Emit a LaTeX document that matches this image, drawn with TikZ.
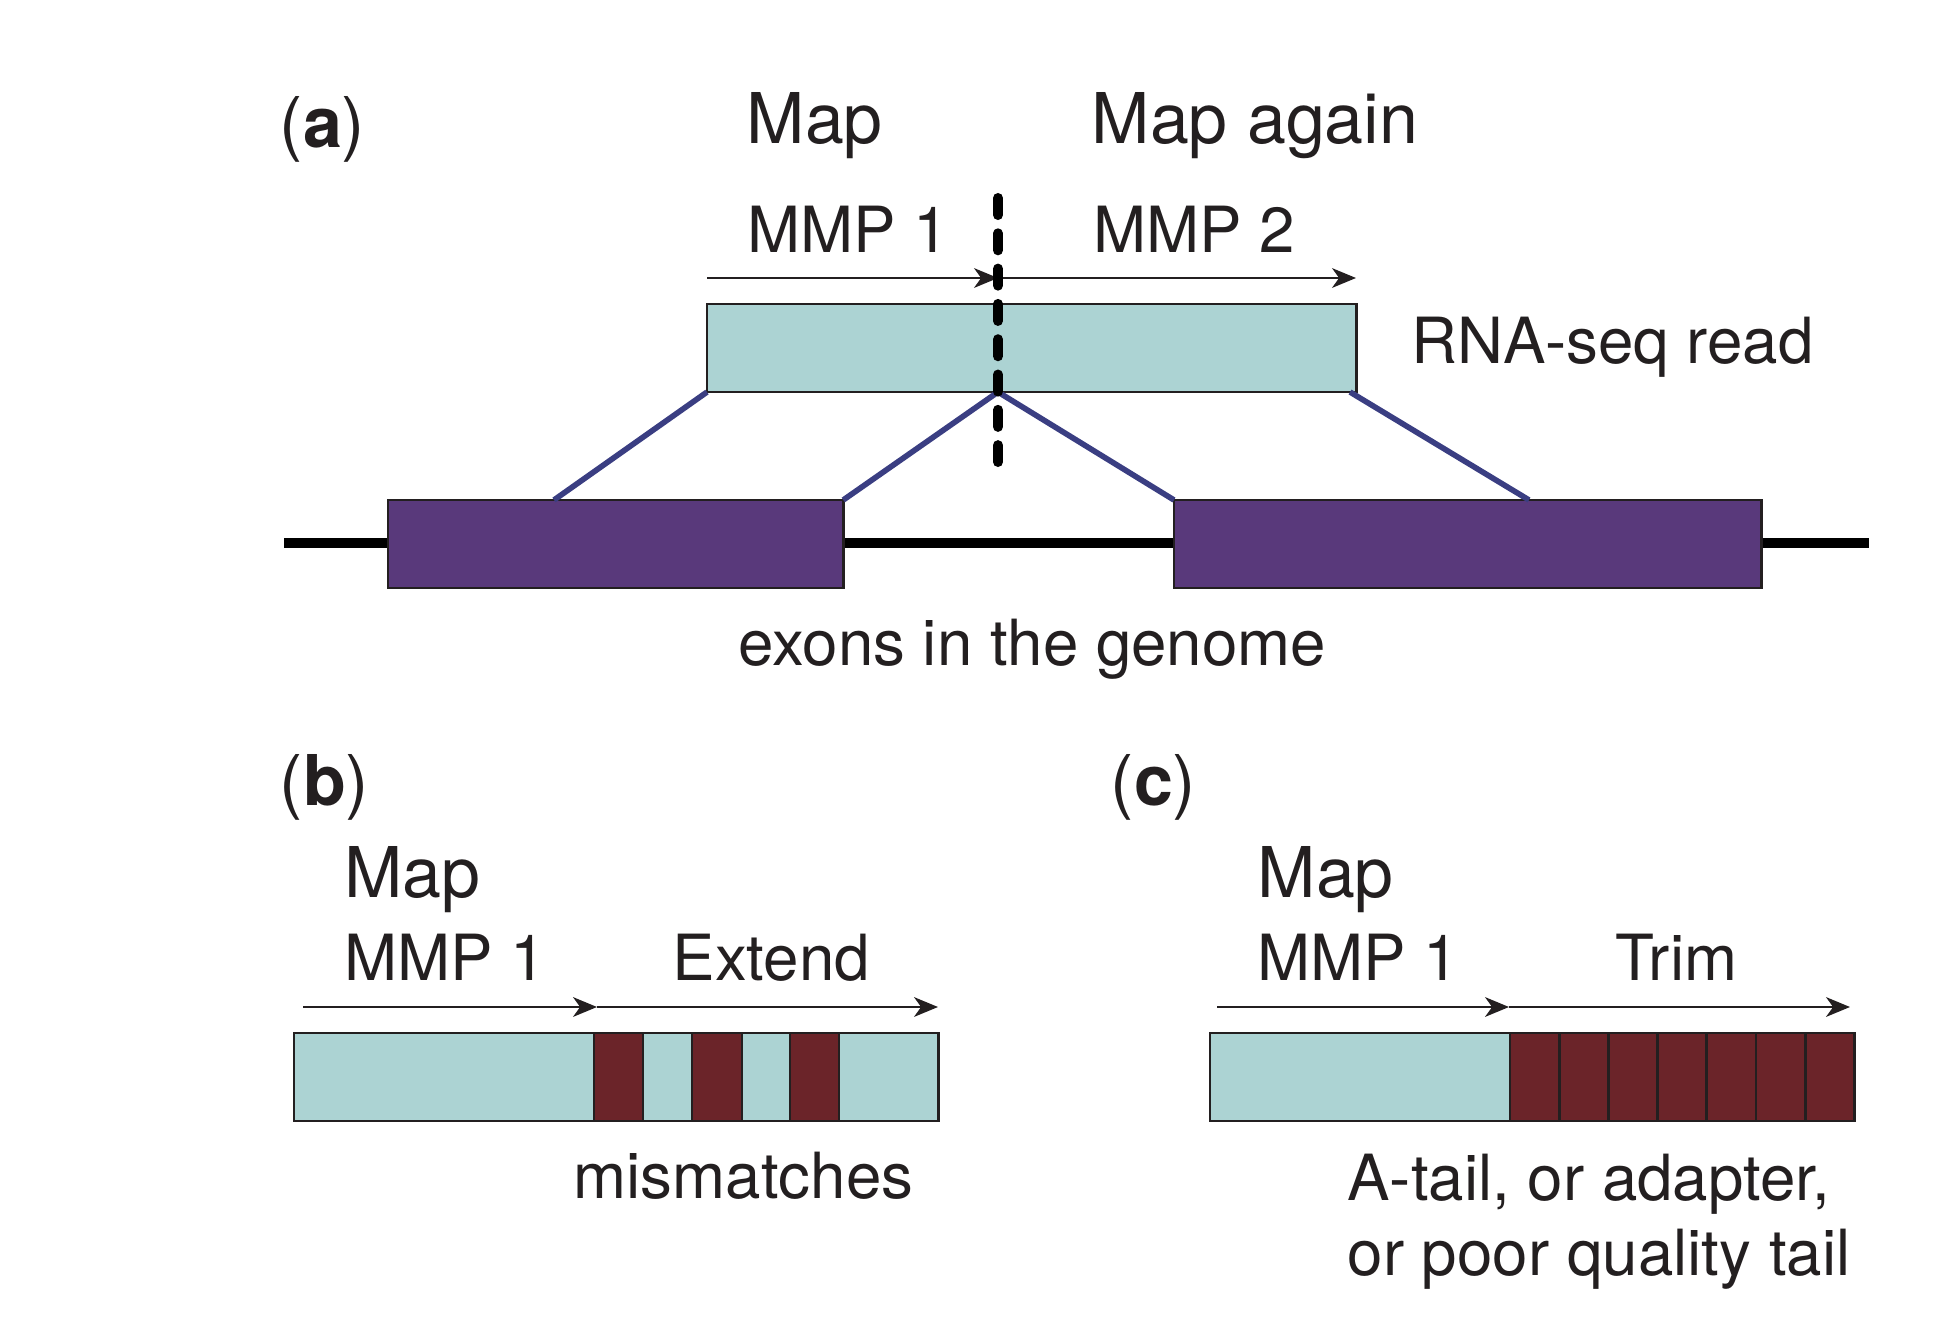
\documentclass[tikz,border=0pt]{standalone}
\usepackage{fontspec}
\setmainfont{TeX Gyre Heros}
\usetikzlibrary{arrows.meta,calc}
\definecolor{readfill}{RGB}{172,211,211}
\definecolor{exonfill}{RGB}{89,57,123}
\definecolor{mismfill}{RGB}{107,36,41}
\definecolor{connblue}{RGB}{58,62,130}
\definecolor{ink}{RGB}{35,31,32}
\begin{document}
\begin{tikzpicture}[x=0.01cm,y=-0.01cm,
  lbl/.style={inner sep=0pt, anchor=base west, font=\fontsize{18.1}{21}\selectfont, text=ink},
  biglbl/.style={inner sep=0pt, anchor=base west, font=\fontsize{19.9}{23}\selectfont, text=ink},
  box/.style={draw=ink, line width=0.8pt, inner sep=0pt, outer sep=0pt, anchor=north west},
  arr/.style={-{Stealth[length=6.8pt,width=5.6pt,inset=2pt]}, line width=0.7pt, draw=ink},
  conn/.style={draw=connblue, line width=1.6pt},
  genome/.style={draw=black, line width=2.6pt},
  splitline/.style={draw=black, line width=2.85pt, line cap=round, dash pattern=on 4.84pt off 5.2pt}]
\useasboundingbox (0,0) rectangle (1956,1336);

% ---------- panel (a) ----------
\node[biglbl] (la) at (279,147) {(\textbf{a})};
\node[biglbl] (map1) at (746,143) {Map};
\node[biglbl] (mapagain) at (1091,143) {Map again};
\node[lbl] (mmp1a) at (747,252) {MMP 1};
\node[lbl] (mmp2a) at (1093,252) {MMP 2};
\node[lbl] (rnalbl) at (1411,363) {RNA-seq read};

\draw[genome] (284,543) coordinate (gl) -- (1869,543) coordinate (gr);
\node[box, fill=exonfill, minimum width=4.55cm, minimum height=0.88cm] (ex1) at (388,500) {};
\node[box, fill=exonfill, minimum width=5.87cm, minimum height=0.88cm] (ex2) at (1174,500) {};

\node[box, fill=readfill, minimum width=6.49cm, minimum height=0.88cm] (read) at (707,304) {};

\coordinate (split) at (998,392);
\coordinate (e1a) at (554,500);
\coordinate (e2b) at (1529,500);
\coordinate (rr) at (1350,392);
\draw[conn] (read.south west) -- (e1a);
\draw[conn] (split) -- (ex1.north east);
\draw[conn] (split) -- (ex2.north west);
\draw[conn] (rr) -- (e2b);

\coordinate (a1s) at (707,278);
\coordinate (a1e) at (998,278);
\coordinate (a2e) at (1356,278);
\draw[arr] (a1s) -- (a1e);
\draw[arr] (a1e) -- (a2e);

\draw[splitline] (998,198) coordinate (dtop) -- (998,462) coordinate (dbot);

\node[lbl] (exlbl) at (738,665) {exons in the genome};

% ---------- panel (b) ----------
\node[biglbl] (lb) at (279,805) {(\textbf{b})};
\node[biglbl] (mapb) at (344,897) {Map};
\node[lbl] (mmp1b) at (344,980) {MMP 1};
\node[lbl] (extend) at (672,980) {Extend};
\coordinate (b1s) at (303,1007);
\coordinate (b1e) at (597,1007);
\coordinate (b2e) at (938,1007);
\draw[arr] (b1s) -- (b1e);
\draw[arr] (b1e) -- (b2e);
\node[box, fill=readfill, minimum width=6.44cm, minimum height=0.88cm] (readb) at (294,1033) {};
\node[box, fill=mismfill, minimum width=0.49cm, minimum height=0.88cm] (mm1) at (594,1033) {};
\node[box, fill=mismfill, minimum width=0.50cm, minimum height=0.88cm] (mm2) at (692,1033) {};
\node[box, fill=mismfill, minimum width=0.49cm, minimum height=0.88cm] (mm3) at (790,1033) {};
\node[lbl] (mmlbl) at (573,1198) {mismatches};

% ---------- panel (c) ----------
\node[biglbl] (lc) at (1110,805) {(\textbf{c})};
\node[biglbl] (mapc) at (1257,897) {Map};
\node[lbl] (mmp1c) at (1257,980) {MMP 1};
\node[lbl] (trim) at (1615,980) {Trim};
\coordinate (c1s) at (1217,1007);
\coordinate (c1e) at (1509,1007);
\coordinate (c2e) at (1850,1007);
\draw[arr] (c1s) -- (c1e);
\draw[arr] (c1e) -- (c2e);
\node[box, fill=readfill, minimum width=3.00cm, minimum height=0.88cm] (readc) at (1210,1033) {};
\foreach \i in {0,...,6}
  \node[box, fill=mismfill, minimum width=0.492cm, minimum height=0.88cm] (tail\i) at ({1510+49.2*\i},1033) {};
\node[lbl] (taillbl1) at (1347,1200) {A-tail, or adapter,};
\node[lbl] (taillbl2) at (1347,1275) {or poor quality tail};
\end{tikzpicture}
\end{document}
